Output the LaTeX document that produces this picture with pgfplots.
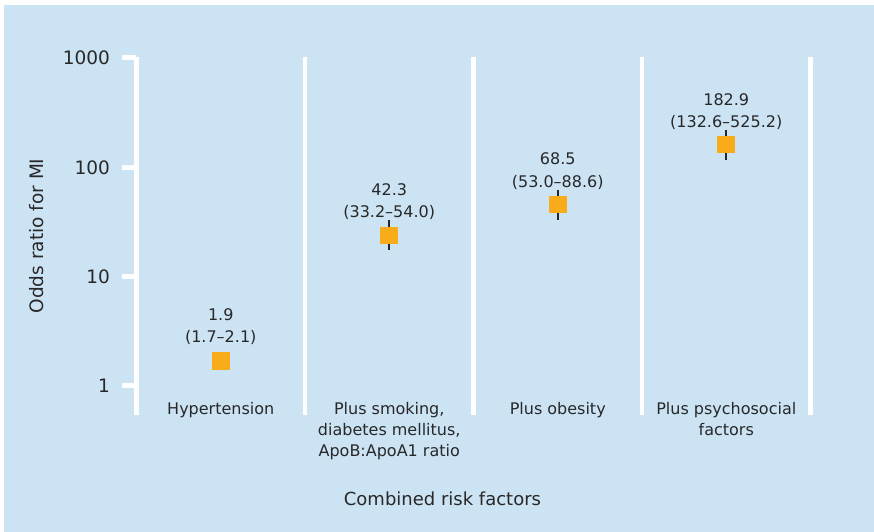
\documentclass[border=0pt]{standalone}
\usepackage{pgfplots}
\pgfplotsset{compat=1.18}
\usepackage{fontspec}
\setmainfont{DejaVu Sans}
\definecolor{bgblue}{RGB}{204,227,244}
\definecolor{mkorange}{RGB}{249,172,26}
\definecolor{txt}{RGB}{40,40,40}
\begin{document}
\begin{tikzpicture}
\fill[white] (-136.5bp,-117bp) rectangle (737.5bp,415bp);
\fill[bgblue] (-132.5bp,-117bp) rectangle (737.5bp,410bp);
\begin{axis}[
  at={(0,0)}, anchor=south west,
  scale only axis, width=674bp, height=358bp,
  xmin=-0.5, xmax=3.5,
  ymode=log, ymin=0.543, ymax=1020,
  axis x line=none,
  axis y line*=left,
  axis line style={-, white, line width=5bp},
  ytick={1,10,100,1000},
  yticklabels={1,10,100,1000},
  yminorticks=false,
  tick align=outside,
  major tick length=14bp,
  every tick/.style={white, line width=5bp},
  yticklabel style={font=\fontsize{18.5bp}{20bp}\selectfont, text=txt, xshift=-9bp, /pgf/number format/assume math mode=true},
  ylabel={Odds ratio for MI},
  ylabel style={font=\fontsize{18.5bp}{20bp}\selectfont, text=txt, yshift=12bp},
  clip=false,
]
\addplot[draw=none, mark=square*, mark size=8.3bp, mark options={fill=mkorange, draw=mkorange, line width=0pt},
  error bars/.cd, y dir=both, y explicit, error mark=none,
  error bar style={black!85, line width=2bp}]
  table[x=x, y=y, y error plus=ep, y error minus=em] {
x y ep em
0 1.69 0.25 0.2
1 23.8 9.0 6.3
2 45.6 16.1 12.8
3 161 60 43.5
};
\foreach \xx in {0.5,1.5,2.5,3.5}{
  \edef\tmp{\noexpand\draw[white, line width=4.5bp] (axis cs:\xx,0.543) -- (axis cs:\xx,1020);}
  \tmp
}
\tikzset{ann/.style={anchor=base, inner sep=0pt, text=txt, font=\fontsize{16bp}{18bp}\selectfont},
         cat/.style={anchor=north, inner sep=0pt, align=center, text=txt, font=\fontsize{16bp}{21bp}\selectfont}}
\node[ann] at (axis cs:0,3.96) {1.9};
\node[ann] at (axis cs:0,2.50) {(1.7–2.1)};
\node[ann] at (axis cs:1,54.9) {42.3};
\node[ann] at (axis cs:1,34.6) {(33.2–54.0)};
\node[ann] at (axis cs:2,105.4) {68.5};
\node[ann] at (axis cs:2,65.0) {(53.0–88.6)};
\node[ann] at (axis cs:3,364.6) {182.9};
\node[ann] at (axis cs:3,229.5) {(132.6–525.2)};
\node[cat] at (axis cs:0,0.714) {Hypertension};
\node[cat] at (axis cs:1,0.714) {Plus smoking,\\diabetes mellitus,\\ApoB:ApoA1 ratio};
\node[cat] at (axis cs:2,0.714) {Plus obesity};
\node[cat] at (axis cs:3,0.714) {Plus psychosocial\\factors};
\node[anchor=base, text=txt, font=\fontsize{18bp}{20bp}\selectfont] at (rel axis cs:0.454,0) [yshift=-90bp] {Combined risk factors};
\end{axis}
\end{tikzpicture}
\end{document}
